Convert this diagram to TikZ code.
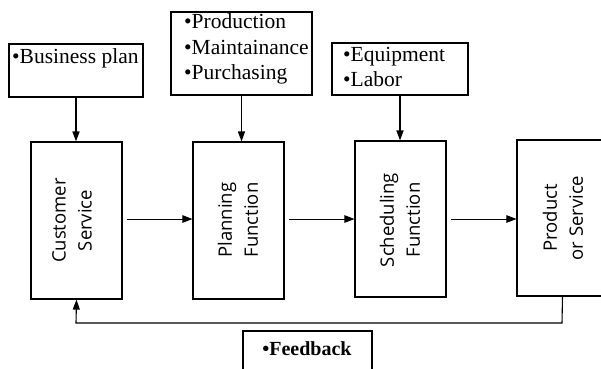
\documentclass[tikz,border=0pt]{standalone}
\usepackage{fontspec}
\setmainfont{Liberation Serif}
\newfontfamily\fnfont{Open Sans}
\usetikzlibrary{arrows.meta}
\begin{document}
\begin{tikzpicture}[x=1pt,y=-1pt,
  box/.style={draw,line width=1.1pt,inner sep=0pt},
  toptext/.style={inner sep=0pt,align=left,font=\fontsize{21.5}{25.5}\selectfont},
  fnbox/.style={box,minimum width=91pt,minimum height=157pt},
  fntext/.style={inner sep=0pt,rotate=90,align=center,font=\fnfont\fontsize{18.5}{26}\selectfont},
  varrow/.style={line width=1.5pt,-{Triangle[length=10pt,width=7pt]}},
  harrow/.style={line width=0.9pt,-{Triangle[length=10pt,width=7.5pt]},shorten <=4pt},
  fbline/.style={line width=1.1pt}
]
\useasboundingbox (0,0) rectangle (601,368);
% top boxes
\node[box,minimum width=134pt,minimum height=53pt] (bp) at (76,70.5) {};
\node[toptext,anchor=base west] (bpt) at (12,63) {•Business plan};
\node[box,minimum width=141pt,minimum height=83pt] (prod) at (241.5,53.5) {};
\node[toptext,anchor=west] (prodt) at (184,49) {•Production\\•Maintainance\\•Purchasing};
\node[box,minimum width=136pt,minimum height=52pt] (equip) at (400,69) {};
\node[toptext,anchor=west] (equipt) at (343,67) {•Equipment\\•Labor};
% function boxes
\node[fnbox] (cs) at (76.5,220.5) {};
\node[fntext] (cst) at (72,220.5) {Customer\\Service};
\node[fnbox] (plan) at (238.5,220.5) {};
\node[fntext] (plant) at (238,220) {Planning\\Function};
\node[fnbox,minimum height=156pt] (sched) at (400.5,219) {};
\node[fntext] (schedt) at (400,220) {Scheduling\\Function};
\node[fnbox,minimum height=156pt] (ps) at (562.5,218) {};
\node[fntext] (pst) at (563,218) {Product\\or Service};
% feedback box
\node[box,minimum width=129pt,minimum height=41pt] (fb) at (307.5,351.5) {};
\node[inner sep=0pt,anchor=base,font=\bfseries\fontsize{20}{24}\selectfont] (fbt) at (307,355) {•Feedback};
% vertical arrows
\draw[varrow] (bp.south) -- (bp.south |- cs.north);
\draw[varrow] (prod.south) -- (prod.south |- plan.north);
\draw[varrow] (equip.south) -- (equip.south |- sched.north);
% horizontal arrows
\draw[harrow] (cs.east |- 0,219) -- (plan.west |- 0,219);
\draw[harrow] (plan.east |- 0,219) -- (sched.west |- 0,219);
\draw[harrow] (sched.east |- 0,219) -- (ps.west |- 0,219);
% feedback loop
\coordinate (fbr) at (562,323);
\coordinate (fbl) at (76,323);
\draw[fbline,-{Triangle[length=10pt,width=7pt]}] (ps.south) -- (fbr) -- (fbl) -- (cs.south);
\end{tikzpicture}
\end{document}
